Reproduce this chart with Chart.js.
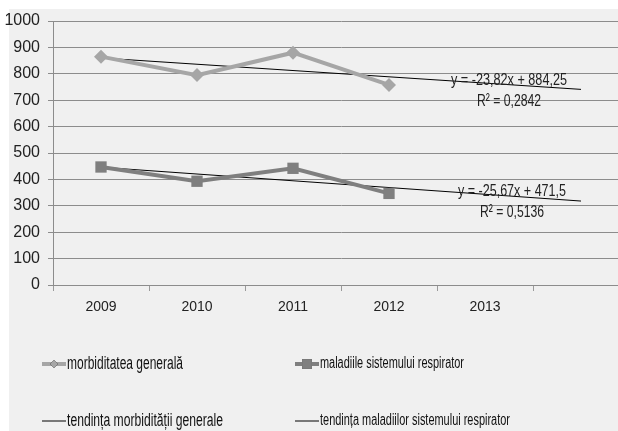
<!DOCTYPE html>
<html>
<head>
<meta charset="utf-8">
<script src="https://cdn.jsdelivr.net/npm/chart.js@4.4.0/dist/chart.umd.min.js"></script>
<style>
  html, body { margin: 0; padding: 0; overflow: hidden; background: #fff; }
  #wrap { position: absolute; left: 0; top: 0; width: 640px; height: 431px; }
</style>
</head>
<body>
<div id="wrap"><canvas id="chart"></canvas></div>
<script>
/* ================= DATA ================= */
const years = ["2009", "2010", "2011", "2012", "2013", ""];
const morbiditate = [865, 795, 880, 758, null, null];
const respirator = [447, 393, 442, 347, null, null];
const trendMorb = [860, null, null, null, null, 741];
const trendResp = [446, null, null, null, null, 318];

const seriesNames = [
  "morbiditatea generală",
  "maladiile sistemului respirator",
  "tendința morbidității generale",
  "tendința maladiilor sistemului respirator"
];
const eqMorb = ["y = -23,82x + 884,25", "R² = 0,2842"];
const eqResp = ["y = -25,67x + 471,5", "R² = 0,5136"];

const FONT = "'Liberation Sans Narrow', 'Liberation Sans', Arial, sans-serif";
const LIGHT = "#a6a6a6";
const DARK = "#7f7f7f";

/* ================= PLUGINS ================= */
const backdrop = {
  id: "backdrop",
  beforeDraw(chart) {
    const ctx = chart.ctx;
    ctx.save();
    ctx.fillStyle = "#f0f0f0";
    ctx.fillRect(9, 9, chart.width, chart.height);
    ctx.restore();
  }
};

const trendText = {
  id: "trendText",
  afterDatasetsDraw(chart) {
    const { ctx, scales: { x, y } } = chart;
    ctx.save();
    ctx.fillStyle = "#222";
    ctx.font = "17px " + FONT;
    ctx.textAlign = "center";
    ctx.textBaseline = "middle";
    const cx = x.getPixelForValue(4.25);
    ctx.fillText(eqMorb[0], cx, y.getPixelForValue(776), 116);
    ctx.fillText(eqMorb[1], cx, y.getPixelForValue(697), 64);
    ctx.fillText(eqResp[0], cx + 3, y.getPixelForValue(356), 108);
    ctx.fillText(eqResp[1], cx + 3, y.getPixelForValue(276), 64);
    ctx.restore();
  }
};

const bottomLegend = {
  id: "bottomLegend",
  afterDraw(chart) {
    const ctx = chart.ctx;
    const rows = [364, 421];
    const cols = [42, 295];
    const items = [
      { name: seriesNames[0], color: LIGHT, w: 4, marker: "rectRot", r: 4, size: 18, maxW: 116 },
      { name: seriesNames[1], color: DARK, w: 4, marker: "rect", r: 7, size: 16, maxW: 144 },
      { name: seriesNames[2], color: "#000", w: 1, marker: null, size: 18, maxW: 156 },
      { name: seriesNames[3], color: "#000", w: 1, marker: null, size: 16, maxW: 190 }
    ];
    ctx.save();
    items.forEach((it, i) => {
      const lx = cols[i % 2];
      const ly = rows[Math.floor(i / 2)];
      ctx.strokeStyle = it.color;
      ctx.lineWidth = it.w;
      ctx.beginPath();
      ctx.moveTo(lx, ly);
      ctx.lineTo(lx + 24, ly);
      ctx.stroke();
      if (it.marker) {
        Chart.helpers.drawPoint(ctx, {
          pointStyle: it.marker, radius: it.r, borderWidth: 0
        }, lx + 12, ly);
        ctx.fillStyle = it.color;
        ctx.fill();
      }
      ctx.fillStyle = "#111";
      ctx.font = it.size + "px " + FONT;
      ctx.textBaseline = "middle";
      ctx.textAlign = "left";
      ctx.fillText(it.name, lx + 25, ly, it.maxW);
    });
    ctx.restore();
  }
};

/* ================= CHART ================= */
new Chart(document.getElementById("chart"), {
  type: "line",
  data: {
    labels: years,
    datasets: [
      {
        label: seriesNames[0], data: morbiditate,
        borderColor: LIGHT, backgroundColor: LIGHT, borderWidth: 4,
        pointStyle: "rectRot", pointRadius: 7, pointBorderWidth: 0
      },
      {
        label: seriesNames[1], data: respirator,
        borderColor: DARK, backgroundColor: DARK, borderWidth: 4,
        pointStyle: "rect", pointRadius: 8, pointBorderWidth: 0
      },
      {
        label: seriesNames[2], data: trendMorb, spanGaps: true,
        borderColor: "#000", borderWidth: 1, pointRadius: 0
      },
      {
        label: seriesNames[3], data: trendResp, spanGaps: true,
        borderColor: "#000", borderWidth: 1, pointRadius: 0
      }
    ]
  },
  options: {
    responsive: true,
    maintainAspectRatio: false,
    animation: false,
    layout: { padding: { top: 21, left: 0, right: 11, bottom: 0 } },
    plugins: { legend: { display: false }, tooltip: { enabled: false } },
    scales: {
      x: {
        offset: true,
        afterFit: s => { s.height = 146; },
        border: { color: "#8c8c8c" },
        grid: { offset: true, drawOnChartArea: false, tickLength: 6, color: "#9a9a9a" },
        ticks: { color: "#222", padding: 8, font: { family: FONT, size: 14 } }
      },
      y: {
        min: 0, max: 1000,
        afterFit: s => { s.width = 53; },
        border: { color: "#8c8c8c" },
        grid: { color: "#8c8c8c", tickLength: 5 },
        ticks: {
          stepSize: 100, color: "#222", padding: 8,
          font: { family: FONT, size: 16 },
          callback: v => String(v)
        }
      }
    }
  },
  plugins: [backdrop, trendText, bottomLegend]
});
</script>
</body>
</html>
